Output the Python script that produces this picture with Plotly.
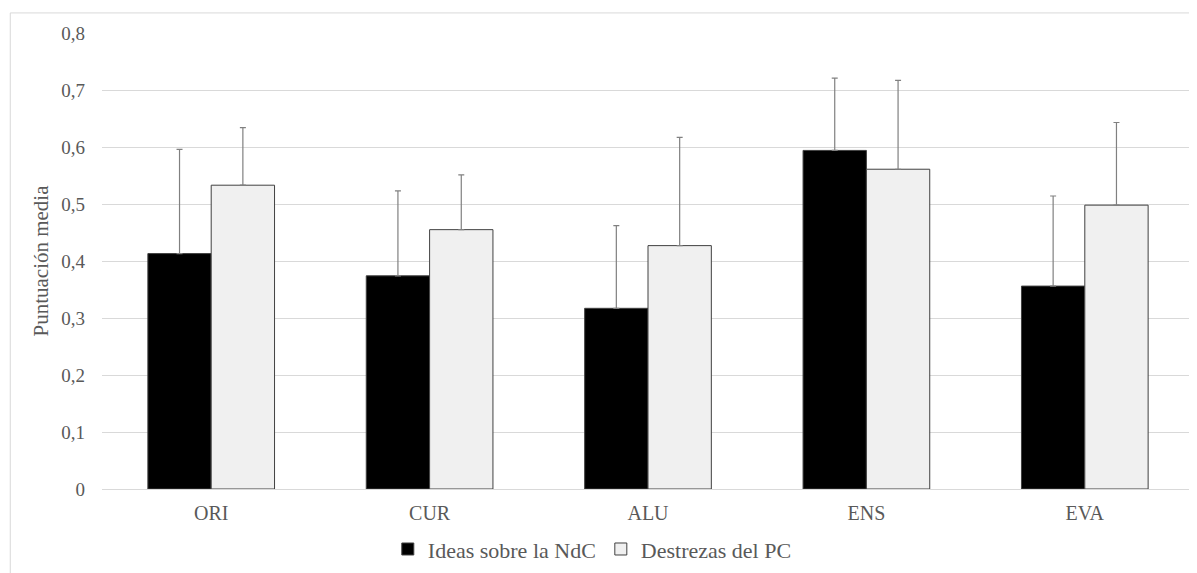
import plotly.graph_objects as go

categories = ["ORI", "CUR", "ALU", "ENS", "EVA"]
ideas_mean = [0.413, 0.374, 0.317, 0.594, 0.356]
ideas_err = [0.183, 0.149, 0.145, 0.127, 0.158]
destrezas_mean = [0.533, 0.455, 0.427, 0.561, 0.498]
destrezas_err = [0.101, 0.096, 0.190, 0.156, 0.145]
tick_vals = [0, 0.1, 0.2, 0.3, 0.4, 0.5, 0.6, 0.7, 0.8]
tick_text = ["0", "0,1", "0,2", "0,3", "0,4", "0,5", "0,6", "0,7", "0,8"]

FONT = "Liberation Serif"
TXT = "#595959"

fig = go.Figure()
fig.add_trace(go.Bar(
    x=categories, y=ideas_mean, name="Ideas sobre la NdC",
    marker=dict(color="#000000", line=dict(color="#404040", width=1)),
    error_y=dict(type="data", symmetric=False, array=ideas_err,
                 arrayminus=[0] * len(ideas_err), color="#808080",
                 thickness=1.2, width=3),
))
fig.add_trace(go.Bar(
    x=categories, y=destrezas_mean, name="Destrezas del PC",
    marker=dict(color="#f0f0f0", line=dict(color="#404040", width=1)),
    error_y=dict(type="data", symmetric=False, array=destrezas_err,
                 arrayminus=[0] * len(destrezas_err), color="#808080",
                 thickness=1.2, width=3),
))

fig.update_layout(
    width=1197, height=573,
    margin=dict(l=94, r=11, t=25, b=89),
    paper_bgcolor="white", plot_bgcolor="white",
    barmode="group", bargap=0.42, bargroupgap=0,
    font=dict(family=FONT, color=TXT, size=18),
    showlegend=True,
    legend=dict(orientation="h", x=0.449, xanchor="center", y=-0.132,
                yanchor="middle", font=dict(size=22, color=TXT, family=FONT),
                itemwidth=30, traceorder="normal"),
    shapes=[dict(type="rect", xref="paper", yref="paper",
                 x0=-0.084, x1=1.0, y0=-0.2, y1=1.044,
                 line=dict(color="#d9d9d9", width=1), fillcolor="rgba(0,0,0,0)",
                 layer="below")],
)
fig.update_xaxes(showline=False, ticks="", tickfont=dict(size=20, color=TXT, family=FONT),
                 showgrid=False, ticklabelstandoff=10)
fig.update_yaxes(range=[0, 0.8], tickvals=tick_vals, ticktext=tick_text,
                 showgrid=True, gridcolor="#d9d9d9", gridwidth=1,
                 zeroline=True, zerolinecolor="#d9d9d9", zerolinewidth=1,
                 showline=False, ticks="", ticklabelstandoff=16,
                 tickfont=dict(size=19, color=TXT, family=FONT),
                 title=dict(text="Puntuación media", font=dict(size=21, color=TXT, family=FONT),
                            standoff=6))

fig.write_html("out.html")
